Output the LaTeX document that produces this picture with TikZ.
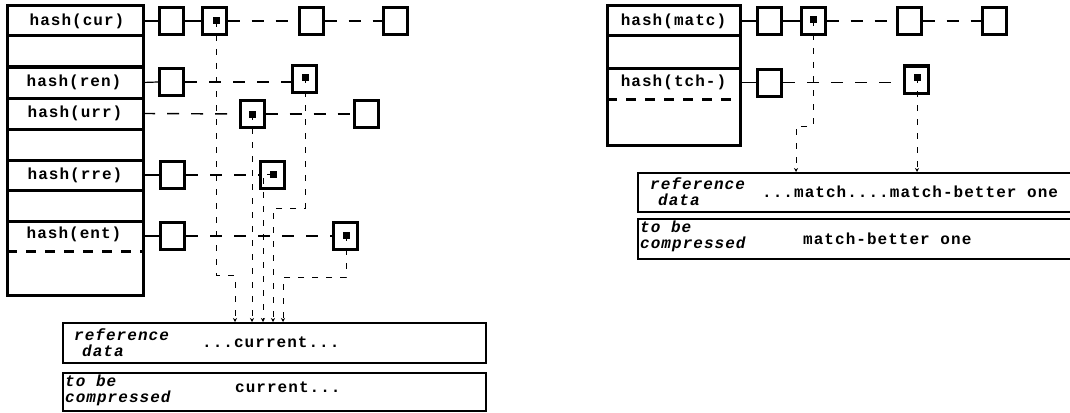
\documentclass[tikz,border=0pt]{standalone}
\usepackage{fontspec}
\setmonofont{Liberation Mono}
\usetikzlibrary{arrows.meta}
\newfontfamily\lbl[LetterSpace=6.5]{Liberation Mono Bold}
\newfontfamily\lbli[LetterSpace=6.5]{Liberation Mono Bold Italic}
\begin{document}
\begin{tikzpicture}[x=1pt,y=-1pt,
  cell/.style={draw,line width=3pt,minimum width=24pt,minimum height=27pt,inner sep=0pt},
  dot/.style={fill,minimum size=7pt,inner sep=0pt},
  row/.style={minimum width=136pt,minimum height=31pt,inner sep=0pt,font=\lbl\fontsize{16}{17}\selectfont},
  tbl/.style={line width=3pt},
  link/.style={line width=1.2pt},
  dlink/.style={line width=1.4pt,dash pattern=on 12pt off 12pt},
  ptr/.style={line width=0.9pt,dash pattern=on 6pt off 8pt},
  ptrarr/.style={ptr,-{Stealth[length=4pt,width=4pt]}},
  strip/.style={draw,line width=1.5pt,minimum height=40pt,inner sep=0pt,anchor=north west},
  txt/.style={font=\lbl\fontsize{16}{17}\selectfont,inner sep=0pt,anchor=base west},
  itx/.style={font=\lbli\fontsize{16}{16}\selectfont,inner sep=0pt,align=left,anchor=north west}]
\useasboundingbox (0,0) rectangle (1070,412);

% ---------- left table ----------
\draw[tbl] (7,6) rectangle (143,295);
\foreach \yy in {36,67,98,129,160,190,221}{\draw[tbl] (7,\yy) -- (143,\yy);}
\draw[tbl,dash pattern=on 10pt off 9pt] (7,251) -- (143,251);
\node[row] (rcur) at (77,21) {hash(cur)};
\node[row] (rren) at (74,82.5) {hash(ren)};
\node[row] (rurr) at (75,113.5) {hash(urr)};
\node[row] (rrre) at (75,175) {hash(rre)};
\node[row] (rent) at (74,234) {hash(ent)};

% row cur
\node[cell] (c1) at (171.5,21) {};
\node[cell] (c2) at (214,21) {};
\node[cell] (c3) at (311,21) {};
\node[cell] (c4) at (395.5,21) {};
\node[dot] (dcur) at (216,21) {};
\draw[link] (rcur.east) -- (c1.west);
\draw[link] (c1.east) -- (c2.west);
\draw[dlink] (c2.east) -- (c3.west);
\draw[dlink] (c3.east) -- (c4.west);
% row ren
\node[cell] (n1) at (171.5,82) {};
\node[cell] (n2) at (304.5,79) {};
\node[dot] (dren) at (305,77) {};
\draw[link] (rren.east) -- (n1.west);
\draw[dlink] (n1.east) -- (n2.west |- n1.east);
% row urr
\node[cell] (u2) at (252,114) {};
\node[cell] (u3) at (366.5,114) {};
\node[dot] (durr) at (252,114) {};
\draw[dlink] (rurr.east) -- (u2.west);
\draw[dlink] (u2.east) -- (u3.west);
% row rre
\node[cell] (e1) at (172.5,175) {};
\node[cell] (e2) at (272,175) {};
\node[dot] (drre) at (273,174) {};
\draw[link] (rrre.east) -- (e1.west);
\draw[dlink] (e1.east) -- (e2.west);
% row ent
\node[cell] (t1) at (172.5,236) {};
\node[cell] (t2) at (345.5,236) {};
\node[dot] (dent) at (346,235) {};
\draw[link] (rent.east |- t1.west) -- (t1.west);
\draw[dlink] (t1.east) -- (t2.west);

% strips left
\node[strip,minimum width=423pt] (refA) at (62,322) {};
\node[strip,minimum width=423pt,minimum height=38pt] (tobA) at (62,372) {};
\node[itx] (refAl) at (74,328) {reference\\\hspace*{8pt}data};
\node[txt] (refAt) at (202,347) {...current...};
\node[itx] (tobAl) at (65,375) {to be\\compressed};
\node[txt] (tobAt) at (235,392) {current...};

% pointers left
\coordinate (k1a) at (216,275); \coordinate (k1b) at (235,275);
\draw[ptrarr] (dcur.center) -- (k1a) -- (k1b) -- (k1b |- refA.north);
\draw[ptrarr] (durr.center) -- (durr.center |- refA.north);
\coordinate (k3a) at (263,174);
\draw[ptrarr] (drre.center) -- (k3a) -- (k3a |- refA.north);
\coordinate (k4a) at (305,208); \coordinate (k4b) at (273,208);
\draw[ptrarr] (dren.center) -- (k4a) -- (k4b) -- (k4b |- refA.north);
\coordinate (k5a) at (346,277); \coordinate (k5b) at (283,277);
\draw[ptrarr] (dent.center) -- (k5a) -- (k5b) -- (k5b |- refA.north);

% ---------- right table ----------
\draw[tbl] (607,6) rectangle (740,145);
\foreach \yy in {36,68}{\draw[tbl] (607,\yy) -- (740,\yy);}
\draw[tbl,dash pattern=on 10pt off 9pt] (607,99) -- (740,99);
\node[row,minimum width=133pt] (rmatc) at (673.5,21) {hash(matc)};
\node[row,minimum width=133pt] (rtch) at (673.5,82.5) {hash(tch-)};
\node[cell] (m1) at (769.5,21) {};
\node[cell] (m2) at (813,21) {};
\node[cell] (m3) at (909,21) {};
\node[cell] (m4) at (994,21) {};
\node[dot] (dmatc) at (813,20) {};
\draw[link] (rmatc.east) -- (m1.west);
\draw[link] (m1.east) -- (m2.west);
\draw[dlink] (m2.east) -- (m3.west);
\draw[dlink] (m3.east) -- (m4.west);
\node[cell] (h1) at (769.5,82.5) {};
\node[cell] (h2) at (916,79.5) {};
\node[dot] (dtch) at (917,77) {};
\draw[link] (rtch.east) -- (h1.west);
\draw[dlink] (h1.east) -- (h2.west |- h1.east);

\node[strip,minimum width=440pt,minimum height=39pt] (refB) at (637,172) {};
\node[strip,minimum width=440pt,minimum height=40pt] (tobB) at (637,218) {};
\node[itx] (refBl) at (650,177) {reference\\\hspace*{8pt}data};
\node[txt] (refBt) at (762,197) {...match....match-better one};
\node[itx] (tobBl) at (640,221) {to be\\compressed};
\node[txt] (tobBt) at (803,244) {match-better one};

\coordinate (k6a) at (813,126); \coordinate (k6b) at (796,126);
\draw[ptrarr] (dmatc.center) -- (k6a) -- (k6b) -- (k6b |- refB.north);
\draw[ptrarr] (dtch.center) -- (dtch.center |- refB.north);
\end{tikzpicture}
\end{document}
